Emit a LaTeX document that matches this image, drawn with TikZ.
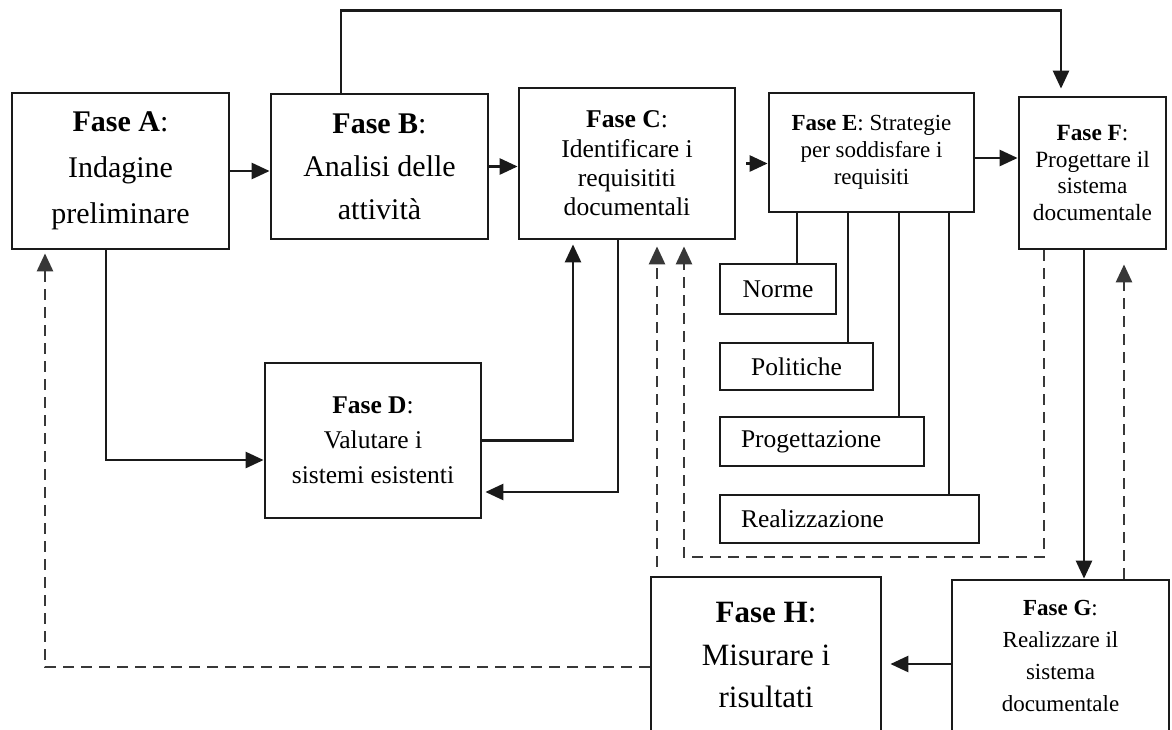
\documentclass[tikz,border=0pt]{standalone}
\usepackage{fontspec}
\setmainfont{Liberation Serif}
\usetikzlibrary{arrows.meta}
\definecolor{ink}{HTML}{1A1A1A}
\definecolor{dashink}{HTML}{383838}
\begin{document}
\begin{tikzpicture}[x=1pt,y=-1pt,
  phase/.style={draw=ink, line width=2.8pt, inner sep=0pt, align=center, fill=white},
  sub/.style={draw=ink, line width=2.8pt, inner ysep=0pt, fill=white,
              font=\fontsize{25.5}{30}\selectfont},
  flow/.style={draw=ink, line width=2.7pt, line join=miter,
               -{Triangle[length=18pt,width=16pt]}},
  plain/.style={draw=ink, line width=2.7pt},
  back/.style={draw=dashink, line width=2.7pt, dash pattern=on 11pt off 7pt,
               -{Triangle[length=18pt,width=16pt]}}
]
\useasboundingbox (0,0) rectangle (1172,729);
\clip (0,0) rectangle (1172,729);
\fill[white] (0,0) rectangle (1172,729);

% phases
\node[phase, minimum width=217pt, minimum height=156pt,
      font=\fontsize{30}{46}\selectfont] (A) at (120.5,171)
  {\textbf{Fase A}:\\Indagine\\preliminare};
\node[phase, minimum width=217pt, minimum height=145pt,
      font=\fontsize{30}{43}\selectfont] (B) at (379.5,166.5)
  {\textbf{Fase B}:\\Analisi delle\\attività};
\node[phase, minimum width=216pt, minimum height=151pt,
      font=\fontsize{25.6}{29.3}\selectfont] (C) at (627,163.5)
  {\textbf{Fase C}:\\Identificare i\\requisititi\\documentali};
\node[phase, minimum width=216pt, minimum height=155pt,
      font=\fontsize{25.5}{35}\selectfont] (D) at (373,440.5)
  {\textbf{Fase D}:\\Valutare i\\sistemi esistenti};
\node[phase, minimum width=205pt, minimum height=119pt,
      font=\fontsize{23}{27}\selectfont] (E) at (871.5,152.5)
  {\textbf{Fase E}: Strategie\\per soddisfare i\\requisiti};
\node[phase, minimum width=147pt, minimum height=152pt,
      font=\fontsize{23.3}{26.7}\selectfont] (F) at (1092.5,173)
  {\textbf{Fase F}:\\Progettare il\\sistema\\documentale};
\node[phase, minimum width=217pt, minimum height=152pt,
      font=\fontsize{23}{31.7}\selectfont] (G) at (1060.5,656)
  {\textbf{Fase G}:\\Realizzare il\\sistema\\documentale};
\node[phase, minimum width=230pt, minimum height=156pt,
      font=\fontsize{31}{42.5}\selectfont] (H) at (766,655)
  {\textbf{Fase H}:\\Misurare i\\risultati};

% strategy items
\node[sub, minimum width=116pt, minimum height=50pt, inner xsep=0pt] (N) at (778,289) {Norme};
\node[sub, minimum width=153pt, minimum height=47pt, inner xsep=0pt] (P) at (796.5,366.5) {Politiche};
\node[sub, text width=162pt, inner xsep=21pt, minimum height=49pt, align=left] (Pg) at (822,441.5) {Progettazione};
\node[sub, text width=217pt, inner xsep=21pt, minimum height=48pt, align=left] (R) at (849.5,519) {Realizzazione};

% main sequence
\draw[flow] (A.east) -- (A.east -| B.west);
\draw[flow] (B.east) -- (B.east -| C.west);
\draw[flow, shorten <=10pt] (C.east) -- (C.east -| E.west);
\draw[flow] ([yshift=-5.5pt]E.east) -- ([yshift=-5.5pt]E.east -| F.west);
\draw[flow, shorten >=7pt] ([xshift=-38.5pt]B.north) -- ++(0,-82) -| ([xshift=-31.5pt]F.north);

% A -> D -> C -> D
\draw[flow] ([xshift=-14.5pt]A.south) |- ([yshift=-19.5pt]D.west);
\draw[flow, shorten >=4pt] (D.east) -| ([xshift=-54pt]C.south);
\draw[flow, shorten >=3pt] ([xshift=-9pt]C.south) |- ([yshift=-51.5pt]D.east);

% E -> strategy items
\draw[plain] ([xshift=-74.5pt]E.south) -- ([xshift=-74.5pt]E.south |- N.north);
\draw[plain] ([xshift=-23.5pt]E.south) -- ([xshift=-23.5pt]E.south |- P.north);
\draw[plain] ([xshift=27.5pt]E.south) -- ([xshift=27.5pt]E.south |- Pg.north);
\draw[plain] ([xshift=77.5pt]E.south) -- ([xshift=77.5pt]E.south |- R.north);

% F -> G -> H
\draw[flow] ([xshift=-8.5pt]F.south) -- ([xshift=23.5pt]G.north);
\draw[flow, shorten >=8pt] ([yshift=-8pt]G.west) -- ([yshift=-8pt]G.west -| H.east);

% feedback loops
\coordinate (loopFC) at (684,557);
\draw[back, shorten >=14pt] ([xshift=63.5pt]G.north) -- ([xshift=31.5pt]F.south);
\draw[back, shorten >=6pt] ([xshift=-48.5pt]F.south) |- (loopFC) -- ([xshift=57pt]C.south);
\draw[back, shorten >=6pt, shorten <=9pt] ([xshift=-109pt]H.north) -- ([xshift=30pt]C.south);
\draw[back, shorten >=3pt] ([yshift=-12pt]H.west) -| ([xshift=-75.5pt]A.south);
\end{tikzpicture}
\end{document}
